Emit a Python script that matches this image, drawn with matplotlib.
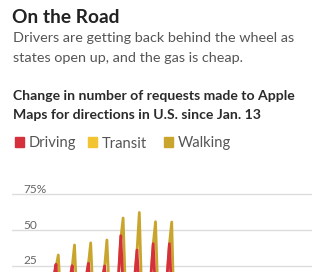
import numpy as np
import matplotlib.pyplot as plt
from matplotlib.patches import Rectangle
from matplotlib.transforms import blended_transform_factory

plt.rcParams['font.family'] = ['Lato', 'DejaVu Sans']

# Daily change (%) since Jan. 13, one row per week (Mon..Sun)
driving = [
    0, 2, 4, 8, 14, 16, -4,
    -2, 3, 5, 9, 15, 17, -3,
    1, 4, 6, 10, 17, 26, 2,
    2, 5, 7, 11, 16, 25, 1,
    3, 6, 8, 13, 17, 26.7, 4,
    4, 5, 8, 12, 16, 24.8, 3,
    6, 9, 12, 16, 18, 46, 10,
    8, 10, 13, 15, 17, 36, 6,
    7, 9, 12, 16, 18, 40.4, 5,
    6, 8, 11, 15, 18, 40.4, 4,
    -5, -15, -25, -35, -40, -42, -55,
    -50, -52, -53, -52, -50, -48, -60,
    -52, -53, -52, -50, -47, -45, -58,
    -48, -47, -46, -44, -40, -38, -52,
    -42, -41, -40, -38, -33, -30, -45,
    -38, -36, -35, -33, -28, -24, -40,
    -33, -31, -30, -27, -22, -18, -34,
    -28, -26, -25, -22, -15, -10, -27,
    -22, -20, -19, -16,
]
transit = [
    2, 3, 4, 5, 8, 6, -3,
    0, 2, 3, 4, 7, 5, -4,
    1, 3, 4, 5, 9, 8, 2,
    2, 3, 5, 6, 9, 10, 4,
    3, 4, 5, 7, 11, 12, 5,
    2, 4, 5, 6, 10, 9, 3,
    4, 6, 7, 9, 14, 16, 8,
    4, 6, 7, 8, 12, 13, 5,
    3, 4, 5, 7, 11, 12, 4,
    2, 3, 4, 6, 10, 11, 3,
    -15, -30, -45, -55, -65, -70, -75,
    -72, -73, -74, -74, -73, -76, -78,
    -73, -74, -74, -73, -72, -75, -77,
    -72, -72, -71, -71, -70, -73, -76,
    -70, -70, -69, -69, -67, -70, -74,
    -68, -68, -67, -66, -64, -67, -71,
    -66, -65, -65, -64, -62, -64, -69,
    -64, -63, -62, -61, -59, -61, -66,
    -61, -60, -60, -59,
]
walking = [
    2, 4, 6, 9, 12, 14, 15,
    0, 3, 5, 8, 12, 15, 16,
    1, 4, 6, 10, 15, 24, 32.5,
    2, 5, 7, 10, 14, 24, 39.5,
    3, 6, 8, 12, 15, 26, 41,
    3, 5, 8, 12, 14, 24, 43,
    6, 9, 12, 15, 17, 44, 58.4,
    7, 10, 13, 15, 16, 35, 62.3,
    6, 9, 12, 15, 17, 40, 55.8,
    6, 8, 11, 15, 17, 40, 55.6,
    -10, -25, -35, -45, -55, -62, -70,
    -65, -66, -67, -66, -65, -66, -72,
    -66, -67, -66, -65, -63, -62, -70,
    -63, -62, -61, -60, -56, -54, -62,
    -58, -57, -56, -54, -50, -47, -55,
    -54, -52, -51, -49, -44, -40, -48,
    -50, -48, -47, -45, -39, -34, -42,
    -46, -44, -43, -40, -33, -27, -36,
    -40, -38, -37, -35,
]
y_ticks = [-75, -50, -25, 0, 25, 50, 75]

series_names = ['Driving', 'Transit', 'Walking']
series_colors = ['#d5303c', '#f2c431', '#c9a52e']

W, H = 330, 272
fig = plt.figure(figsize=(W / 100, H / 100), dpi=100)


def px(x, y):
    """pixel position (from top-left) -> figure fraction"""
    return x / W, 1 - y / H


# plot area runs off the bottom of the figure
ax = fig.add_axes([12 / W, -0.528, 300 / W, 0.8398])
days = np.arange(len(driving))
ax.plot(days, walking, color=series_colors[2], lw=2.0, zorder=3)
ax.plot(days, transit, color=series_colors[1], lw=2.0, zorder=2)
ax.plot(days, driving, color=series_colors[0], lw=2.0, zorder=4)
ax.set_xlim(0, 129.6)
ax.set_ylim(-80, 80)
ax.set_yticks(y_ticks)
ax.set_xticks([])
ax.tick_params(left=False, labelleft=False)
ax.grid(axis='y', color='#dcdcdc', lw=1.0)
for s in ax.spines.values():
    s.set_visible(False)

# value labels sit on top of their gridlines (only the upper ones are in frame)
trans = blended_transform_factory(ax.transAxes, ax.transData)
for v in y_ticks:
    if v <= 0:
        continue
    lab = f'{v}%' if v == y_ticks[-1] else f'{v}'
    ax.text(11 / 300, v + 1.0, lab, transform=trans, fontsize=8.6,
            color='#666666', ha='left', va='baseline')

# headline, dek and chart title
fig.text(*px(12.5, 22.6), 'On the Road', fontsize=13.8, fontweight='bold',
         family=['Liberation Sans Narrow', 'Lato'],
         color='#222222', va='baseline')
fig.text(*px(13, 42.5), 'Drivers are getting back behind the wheel as',
         fontsize=10.35, color='#555555', va='baseline')
fig.text(*px(13, 61.8), 'states open up, and the gas is cheap.',
         fontsize=10.35, color='#555555', va='baseline')
fig.text(*px(13, 100), 'Change in number of requests made to Apple',
         fontsize=10.1, fontweight='bold', color='#2a2a2a', va='baseline')
fig.text(*px(13, 119.3), 'Maps for directions in U.S. since Jan. 13',
         fontsize=10.1, fontweight='bold', color='#2a2a2a', va='baseline')

# legend
leg_x = [14.7, 88, 164]
for x0, name, c in zip(leg_x, series_names, series_colors):
    fx, fy = px(x0, 146.7)
    fig.patches.append(Rectangle((fx, fy), 9.3 / W, 9.4 / H, color=c,
                                 transform=fig.transFigure, figure=fig))
    fig.text(*px(x0 + 14, 147.5), name, fontsize=10.6, color='#555555',
             va='baseline')

fig.savefig('out.png', dpi=100)
